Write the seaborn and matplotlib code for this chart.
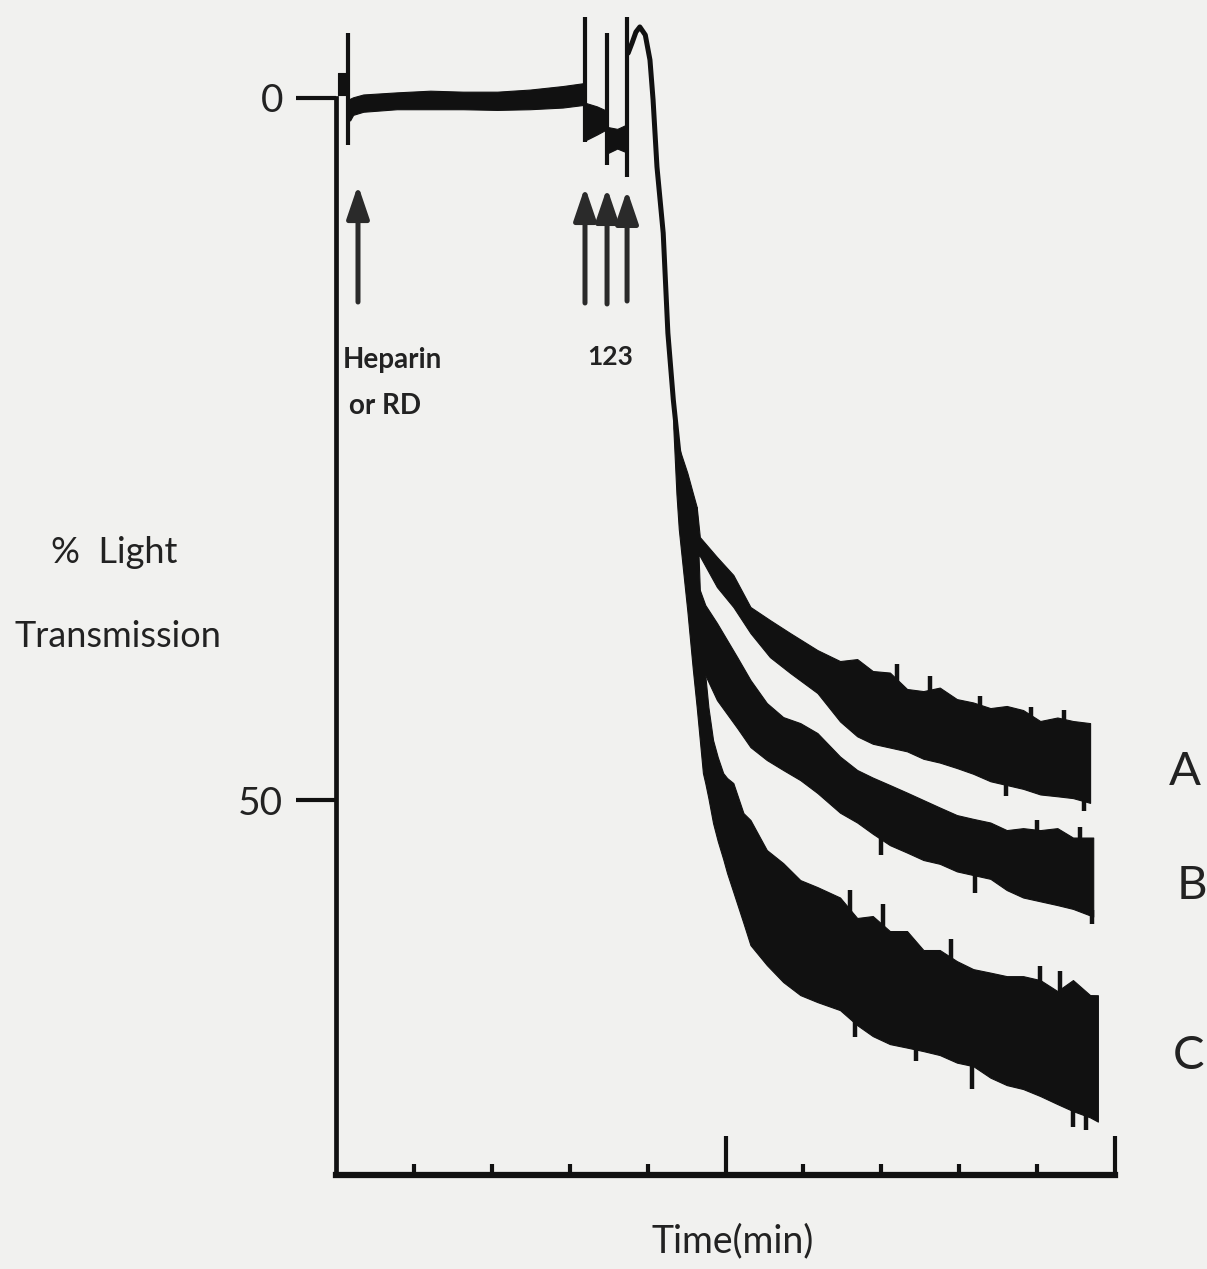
import numpy as np
import pandas as pd
import matplotlib
matplotlib.use("Agg")
import matplotlib.pyplot as plt
import seaborn as sns

# Aggregometer trace: time in minutes, % light transmission (0 at the top)
pre_t = [0.03, 0.15]
pre_hi = [-1.78, -1.78]
pre_lo = [-0.21, -0.21]

baseline_t = [0.18, 0.22, 0.35, 0.78, 1.21, 1.63, 2.07, 2.49, 2.91, 3.17]
baseline_hi = [0.05, -0.05, -0.25, -0.40, -0.52, -0.45, -0.45, -0.60, -0.85, -1.05]
baseline_lo = [1.60, 1.20, 0.98, 0.80, 0.80, 0.80, 0.85, 0.80, 0.68, 0.50]

step1_t = [3.21, 3.35, 3.45]
step1_hi = [0.36, 0.60, 0.85]
step1_lo = [2.99, 2.60, 2.30]

step2_t = [3.49, 3.61, 3.72]
step2_hi = [2.07, 2.20, 1.92]
step2_lo = [3.92, 3.60, 3.85]

# pen deflections when the cuvette is opened for an addition
mark_t = [0.154, 3.196, 3.479, 3.736]
mark_top = [-4.63, -5.77, -4.63, -5.77]
mark_bottom = [3.35, 3.13, 4.77, 5.63]

peak_t = [3.75, 3.80, 3.85, 3.90, 3.97, 4.03, 4.07, 4.12, 4.20, 4.26, 4.33, 4.42, 4.51]
peak_y = [-3.2, -3.92, -4.70, -5.06, -4.49, -2.71, 0.14, 4.91, 9.62, 16.74, 21.51, 26.28, 28.63]

late_t = [6.47, 6.69, 6.89, 7.11, 7.33, 7.54, 7.75, 7.97, 8.18, 8.40, 8.61, 8.82, 9.04, 9.26, 9.46]

a_t = [4.63, 4.67, 4.89, 5.10, 5.32, 5.57, 5.83, 6.18] + late_t + [9.68]
a_hi = [29.13, 31.27, 32.69, 33.97, 36.25, 37.18, 38.11, 39.32,
        40.10, 39.96, 40.81, 40.92, 42.09, 42.24, 41.99, 42.81, 43.05, 43.45,
        43.30, 43.59, 44.37, 44.12, 44.37, 44.52]
a_lo = [32.55, 32.62, 34.83, 36.25, 38.11, 39.82, 40.95, 42.38,
        44.40, 45.46, 45.99, 46.26, 46.53, 47.06, 47.33, 47.72, 48.13, 48.66,
        48.93, 49.20, 49.60, 49.73, 49.86, 50.20]

b_t = [4.67, 4.74, 4.89, 5.15, 5.32, 5.53, 5.74, 5.96, 6.18] + late_t + [9.72]
b_hi = [35.04, 36.11, 37.39, 39.82, 41.45, 43.09, 44.09, 44.52, 45.23,
        46.90, 47.86, 48.40, 48.93, 49.47, 50.00, 50.53, 51.07, 51.34, 51.60,
        52.14, 52.00, 52.14, 52.00, 52.67, 52.67]
b_lo = [39.50, 41.10, 42.88, 44.87, 46.23, 47.15, 47.86, 48.58, 49.50,
        50.90, 51.60, 52.40, 53.21, 53.74, 54.27, 54.54, 55.08, 55.34, 55.61,
        56.41, 56.94, 57.21, 57.48, 57.75, 58.30]

c_t = [4.33, 4.37, 4.40, 4.51, 4.58, 4.63, 4.67, 4.71, 4.74, 4.78, 4.84, 4.90,
       4.97, 5.02, 5.10, 5.23, 5.32, 5.53, 5.74, 5.96, 6.18] + late_t + [9.68, 9.78]
c_hi = [21.00, 23.50, 24.86, 26.71, 28.13, 29.13, 35.04, 37.89, 41.10, 43.38,
        45.73, 46.94, 48.08, 48.43, 48.79, 50.93, 51.42, 53.56, 54.49, 55.70, 56.20,
        56.94, 58.40, 58.26, 59.33, 59.33, 60.68, 60.68, 61.47, 62.04, 62.29,
        62.54, 62.54, 62.82, 63.60, 62.82, 63.89, 63.90]
c_lo = [23.50, 28.20, 30.70, 36.54, 40.67, 43.38, 45.73, 48.08, 48.79, 49.86,
        51.64, 52.92, 54.20, 55.20, 56.55, 58.76, 60.33, 61.75, 62.96, 63.89, 64.39,
        64.96, 66.03, 66.81, 67.38, 67.63, 67.88, 68.16, 68.70, 68.95, 69.77,
        70.30, 70.58, 71.08, 71.65, 72.15, 72.60, 72.90]

# noise spikes sticking out of the traces: (time, tip)
a_up_t = [7.20, 7.63, 8.27, 8.92, 9.35]
a_up_y = [40.3, 41.2, 42.6, 43.4, 43.6]
a_dn_t = [8.60, 9.60]
a_dn_y = [49.7, 50.8]
b_up_t = [7.60, 9.00, 9.55]
b_up_y = [50.2, 51.4, 51.9]
b_dn_t = [7.00, 8.20, 9.70]
b_dn_y = [53.9, 56.6, 58.8]
c_up_t = [6.60, 7.02, 7.90, 9.04, 9.30]
c_up_y = [56.4, 57.4, 59.9, 61.8, 62.2]
c_dn_t = [6.66, 7.45, 8.16, 9.46, 9.63]
c_dn_y = [66.9, 68.6, 70.6, 73.3, 73.5]

arrow_t = [0.282, 3.196, 3.479, 3.736]
arrow_tip = [6.20, 6.34, 6.41, 6.55]
arrow_tail = [14.53, 14.60, 14.67, 14.46]

trace_names = ["A", "B", "C"]
trace_label_t = [10.90, 10.99, 10.94]
trace_label_y = [48.0, 56.1, 68.2]

sns.set_style("white")
plt.rcParams["font.family"] = ["Lato", "DejaVu Sans"]

paper = "#f1f1ef"
ink = "#111111"
text_ink = "#222222"

fig = plt.figure(figsize=(12.07, 12.69), dpi=100)
fig.patch.set_facecolor(paper)
ax = fig.add_axes([0.2784, 0.0741, 0.6454, 0.9206])
ax.set_facecolor("none")
ax.set_xlim(0, 10)
ax.set_ylim(76.7, -6.5)

fill_kw = dict(color=ink, linewidth=0.8, edgecolor=ink)
for t, hi, lo in [(pre_t, pre_hi, pre_lo), (baseline_t, baseline_hi, baseline_lo),
                  (step1_t, step1_hi, step1_lo), (step2_t, step2_hi, step2_lo),
                  (a_t, a_hi, a_lo), (b_t, b_hi, b_lo), (c_t, c_hi, c_lo)]:
    ax.fill_between(t, hi, lo, **fill_kw)

ax.vlines(mark_t, mark_top, mark_bottom, color=ink, linewidth=3.0)

peak = pd.DataFrame({"t": peak_t, "y": peak_y})
sns.lineplot(data=peak, x="t", y="y", ax=ax, color=ink, linewidth=3.6,
             sort=False, estimator=None)

for t, hi, lo, up_t, up_y, dn_t, dn_y in [
        (a_t, a_hi, a_lo, a_up_t, a_up_y, a_dn_t, a_dn_y),
        (b_t, b_hi, b_lo, b_up_t, b_up_y, b_dn_t, b_dn_y),
        (c_t, c_hi, c_lo, c_up_t, c_up_y, c_dn_t, c_dn_y)]:
    ax.vlines(up_t, up_y, np.interp(up_t, t, hi) + 0.4, color=ink, linewidth=3.2)
    ax.vlines(dn_t, np.interp(dn_t, t, lo) - 0.4, dn_y, color=ink, linewidth=3.2)

for t, tip, tail in zip(arrow_t, arrow_tip, arrow_tail):
    ax.annotate("", xy=(t, tip), xytext=(t, tail),
                arrowprops=dict(arrowstyle="-|>,head_length=1.0,head_width=0.34",
                                mutation_scale=20, color="#2a2a2a", lw=3.6,
                                shrinkA=0, shrinkB=0))

ax.text(0.72, 18.66, "Heparin", ha="center", va="center", fontsize=20,
        fontweight="bold", color=text_ink)
ax.text(0.63, 21.94, "or RD", ha="center", va="center", fontsize=20,
        fontweight="bold", color=text_ink)
ax.text(3.52, 18.45, "123", ha="center", va="center", fontsize=19,
        fontweight="bold", color=text_ink)

for name, tx, ty in zip(trace_names, trace_label_t, trace_label_y):
    ax.text(tx, ty, name, ha="center", va="center", fontsize=34,
            color=text_ink, clip_on=False)

sns.despine(ax=ax, top=True, right=True)
ax.spines["left"].set_bounds(0, 76.7)
ax.spines["left"].set_linewidth(3.4)
ax.spines["bottom"].set_linewidth(4.5)
ax.spines["left"].set_color(ink)
ax.spines["bottom"].set_color(ink)

ax.set_yticks([0, 50])
ax.set_yticklabels(["0", "50"])
ax.tick_params(axis="y", direction="out", length=29, width=3.0, pad=9,
               labelsize=28, colors=ink, labelcolor=text_ink, left=True)
ax.set_xticks([5, 10])
ax.set_xticklabels([])
ax.set_xticks([1, 2, 3, 4, 6, 7, 8, 9], minor=True)
ax.tick_params(axis="x", which="major", direction="in", length=28, width=3.0,
               colors=ink, bottom=True)
ax.tick_params(axis="x", which="minor", direction="in", length=8, width=3.0,
               colors=ink, bottom=True)

ax.set_xlabel("Time(min)", fontsize=27, color=text_ink)
ax.xaxis.label.set_va("baseline")
ax.xaxis.set_label_coords(0.5096, -0.0665)
ax.set_ylabel("")

fig.text(0.0945, 0.5563, "%  Light", ha="center", va="baseline", fontsize=26,
         color=text_ink)
fig.text(0.0978, 0.4901, "Transmission", ha="center", va="baseline", fontsize=26,
         color=text_ink)

fig.savefig("out.png", dpi=100, facecolor=paper)
